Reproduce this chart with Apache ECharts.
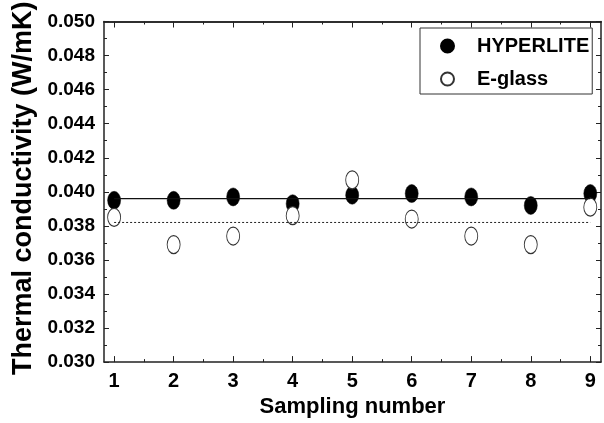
<!DOCTYPE html>
<html>
<head>
<meta charset="utf-8">
<script src="https://cdn.jsdelivr.net/npm/echarts@6/dist/echarts.min.js"></script>
<style>
html,body{margin:0;padding:0;background:#fff;}
#c{width:604px;height:423px;}
</style>
</head>
<body>
<div id="c"></div>
<script>
// ---- data ----
const samples = [1, 2, 3, 4, 5, 6, 7, 8, 9];
const hyperlite = [0.0395, 0.0395, 0.0397, 0.0393, 0.0398, 0.0399, 0.0397, 0.0392, 0.0399];
const eglass = [0.0385, 0.0369, 0.0374, 0.0386, 0.0407, 0.0384, 0.0374, 0.0369, 0.0391];
const hyperliteMean = 0.0396;
const eglassMean = 0.0382;
const xMajorTicks = [1, 2, 3, 4, 5, 6, 7, 8, 9];
const xMinorTicks = [1.5, 2.5, 3.5, 4.5, 5.5, 6.5, 7.5, 8.5];
const seriesNames = ['HYPERLITE', 'E-glass'];

const ELLIPSE = 'path://M1,0A1,1,0,1,1,1,2A1,1,0,1,1,1,0Z';
const FONT = '"Liberation Sans", Arial, sans-serif';
const AX = '#222';

const chart = echarts.init(document.getElementById('c'), null, {renderer: 'canvas'});

const xBase = {type: 'value', min: 0.83, max: 9.18, splitLine: {show: false}};
const tickOnly = (pos, values, len) => Object.assign({}, xBase, {
  position: pos,
  axisLine: {show: pos === 'top', lineStyle: {color: AX, width: 1.5}},
  axisTick: {show: true, inside: true, length: len, customValues: values, lineStyle: {color: AX, width: 1}},
  axisLabel: {show: false}
});

chart.setOption({
  animation: false,
  backgroundColor: '#fff',
  grid: {left: 104, right: 3, top: 21, bottom: 58, containLabel: false},
  xAxis: [
    Object.assign({}, xBase, {
      position: 'bottom',
      name: 'Sampling number',
      nameLocation: 'middle',
      nameGap: 31,
      nameTextStyle: {fontFamily: FONT, fontWeight: 'bold', fontSize: 22, color: '#000'},
      axisLine: {show: true, lineStyle: {color: AX, width: 1.5}},
      axisTick: {show: true, inside: true, length: 6, customValues: xMajorTicks, lineStyle: {color: AX, width: 1}},
      axisLabel: {show: true, customValues: xMajorTicks, margin: 9, fontFamily: FONT, fontWeight: 'bold', fontSize: 20, color: '#000'}
    }),
    tickOnly('bottom', xMinorTicks, 3),
    tickOnly('top', xMajorTicks, 6),
    tickOnly('top', xMinorTicks, 3)
  ],
  yAxis: [
    {
      type: 'value', position: 'left', min: 0.030, max: 0.050, interval: 0.002,
      name: 'Thermal conductivity (W/mK)',
      nameLocation: 'middle',
      nameGap: 64,
      nameTextStyle: {fontFamily: FONT, fontWeight: 'bold', fontSize: 27, color: '#000', padding: [0, 0, 0, 7]},
      splitLine: {show: false},
      axisLine: {show: true, lineStyle: {color: AX, width: 1.5}},
      axisTick: {show: true, inside: true, length: 5, lineStyle: {color: AX, width: 1}},
      minorTick: {show: true, splitNumber: 2, length: 3, lineStyle: {color: AX, width: 1}},
      axisLabel: {margin: 9, fontFamily: FONT, fontWeight: 'bold', fontSize: 19, color: '#000',
        formatter: v => v.toFixed(3)}
    },
    {
      type: 'value', position: 'right', min: 0.030, max: 0.050, interval: 0.002,
      splitLine: {show: false},
      axisLine: {show: true, lineStyle: {color: AX, width: 1.5}},
      axisTick: {show: true, inside: true, length: 5, lineStyle: {color: AX, width: 1}},
      minorTick: {show: true, splitNumber: 2, length: 3, lineStyle: {color: AX, width: 1}},
      axisLabel: {show: false}
    }
  ],
  legend: {
    data: [
      {name: seriesNames[0], icon: ELLIPSE},
      {name: seriesNames[1], icon: ELLIPSE}
    ],
    orient: 'vertical',
    left: 420, top: 28,
    padding: [8, 3, 5, 20],
    borderColor: '#333', borderWidth: 1,
    backgroundColor: '#fff',
    itemWidth: 13, itemHeight: 18, itemGap: 13,
    textStyle: {fontFamily: FONT, fontWeight: 'bold', fontSize: 20, color: '#000', padding: [0, 0, 0, 18]},
    selectedMode: false
  },
  series: [
    {
      name: 'HYPERLITE mean', type: 'line', symbol: 'none', silent: true,
      data: [[samples[0], hyperliteMean], [samples[samples.length - 1], hyperliteMean]],
      lineStyle: {color: '#111', width: 1.2, type: 'solid'}
    },
    {
      name: 'E-glass mean', type: 'line', symbol: 'none', silent: true,
      data: [[samples[0], eglassMean], [samples[samples.length - 1], eglassMean]],
      lineStyle: {color: '#222', width: 1, type: [2, 2]}
    },
    {
      name: seriesNames[0], type: 'scatter', symbol: ELLIPSE, symbolSize: [13, 18],
      data: samples.map((s, i) => [s, hyperlite[i]]),
      itemStyle: {color: '#000', borderColor: '#000', borderWidth: 0.5, opacity: 1}
    },
    {
      name: seriesNames[1], type: 'scatter', symbol: ELLIPSE, symbolSize: [13, 18],
      data: samples.map((s, i) => [s, eglass[i]]),
      itemStyle: {color: '#fff', borderColor: '#333', borderWidth: 1, opacity: 1}
    }
  ]
});
</script>
</body>
</html>
